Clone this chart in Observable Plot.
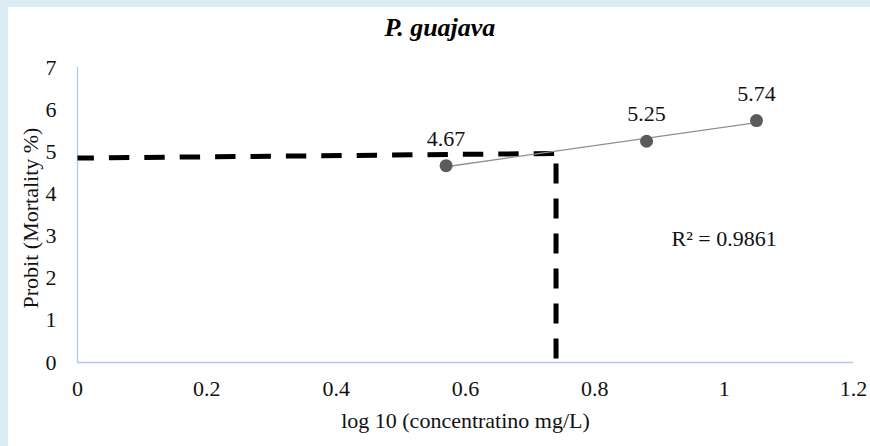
<!DOCTYPE html>
<html>
<head>
<meta charset="utf-8">
<script src="https://cdn.jsdelivr.net/npm/d3@7"></script>
<script src="https://cdn.jsdelivr.net/npm/@observablehq/plot@0.6"></script>
<style>
  html, body { margin: 0; padding: 0; }
  body { width: 870px; height: 446px; background: #d9edf3; position: relative; overflow: hidden; }
  #panel { position: absolute; left: 8px; top: 7px; width: 862px; height: 439px; background: #ffffff; }
  #title { height: 42px; line-height: 42px; text-align: center; font-family: "Liberation Serif", "Times New Roman", serif;
           font-style: italic; font-weight: bold; font-size: 26px; color: #000; padding-left: 2px; }
  #chart svg { display: block; }
</style>
</head>
<body>
<div id="panel">
  <div id="title">P. guajava</div>
  <div id="chart"></div>
</div>
<script>
// Data
const logConc = [0.57, 0.88, 1.05];
const probit = [4.67, 5.25, 5.74];
const xTicks = [0, 0.2, 0.4, 0.6, 0.8, 1, 1.2];
const yTicks = [0, 1, 2, 3, 4, 5, 6, 7];
// LC50 guide lines (dashed)
const guideHX = [0, 0.74];
const guideHY = [4.85, 4.96];
const guideVX = [0.74, 0.74];
const guideVY = [0, 4.96];
const r2Label = ["R² = 0.9861"];
const r2X = [1.0];
const r2Y = [2.93];
const xLabel = "log 10 (concentratino mg/L)";
const yLabel = "Probit (Mortality %)";

const points = logConc.map((x, i) => ({x, y: probit[i]}));
const hLine = guideHX.map((x, i) => ({x, y: guideHY[i]}));
const vLine = guideVX.map((x, i) => ({x, y: guideVY[i]}));
const r2 = r2Label.map((t, i) => ({x: r2X[i], y: r2Y[i], t}));

const font = "'Liberation Serif', 'Times New Roman', serif";
const axisColor = "#b4c7e7";
const fs = 22;

const chart = Plot.plot({
  width: 862,
  height: 397,
  marginLeft: 69,
  marginRight: 17,
  marginTop: 18,
  marginBottom: 84,
  style: {fontFamily: font, fontSize: fs + "px", color: "#111", background: "white", overflow: "visible"},
  x: {domain: [0, 1.2]},
  y: {domain: [0, 7]},
  marks: [
    Plot.axisX({ticks: xTicks, tickFormat: d => `${d}`, tickSize: 0, tickPadding: 18, label: null, fontSize: fs, fontFamily: font}),
    Plot.axisY({ticks: yTicks, tickFormat: d => `${d}`, tickSize: 0, tickPadding: 21, label: null, fontSize: fs, fontFamily: font}),
    Plot.ruleY([0], {stroke: axisColor, strokeWidth: 1.3}),
    Plot.ruleX([0], {stroke: axisColor, strokeWidth: 1.3}),
    Plot.line(hLine, {x: "x", y: "y", stroke: "#000", strokeWidth: 5, strokeDasharray: "20.4,15", strokeDashoffset: 4, strokeLinecap: "butt"}),
    Plot.line(vLine, {x: "x", y: "y", stroke: "#000", strokeWidth: 5, strokeDasharray: "20,15", strokeDashoffset: 31, strokeLinecap: "butt"}),
    Plot.linearRegressionY(points, {x: "x", y: "y", stroke: "#8f8f8f", strokeWidth: 1.3, ci: 0}),
    Plot.dot(points, {x: "x", y: "y", r: 6.5, fill: "#5b5b5b", stroke: "none"}),
    Plot.text(points, {x: "x", y: "y", text: d => d3.format(".2f")(d.y), dy: -27, fontSize: fs, fontFamily: font, fill: "#111"}),
    Plot.text(r2, {x: "x", y: "y", text: "t", fontSize: fs, fontFamily: font, fill: "#111"}),
    Plot.text([xLabel], {frameAnchor: "bottom", lineAnchor: "middle", textAnchor: "middle", dy: 58, fontSize: fs, fontFamily: font, fill: "#111"}),
    Plot.text([yLabel], {frameAnchor: "left", textAnchor: "middle", lineAnchor: "middle", rotate: -90, dx: -47, dy: 3, fontSize: fs, fontFamily: font, fill: "#111"})
  ]
});
document.getElementById("chart").appendChild(chart);
</script>
</body>
</html>
